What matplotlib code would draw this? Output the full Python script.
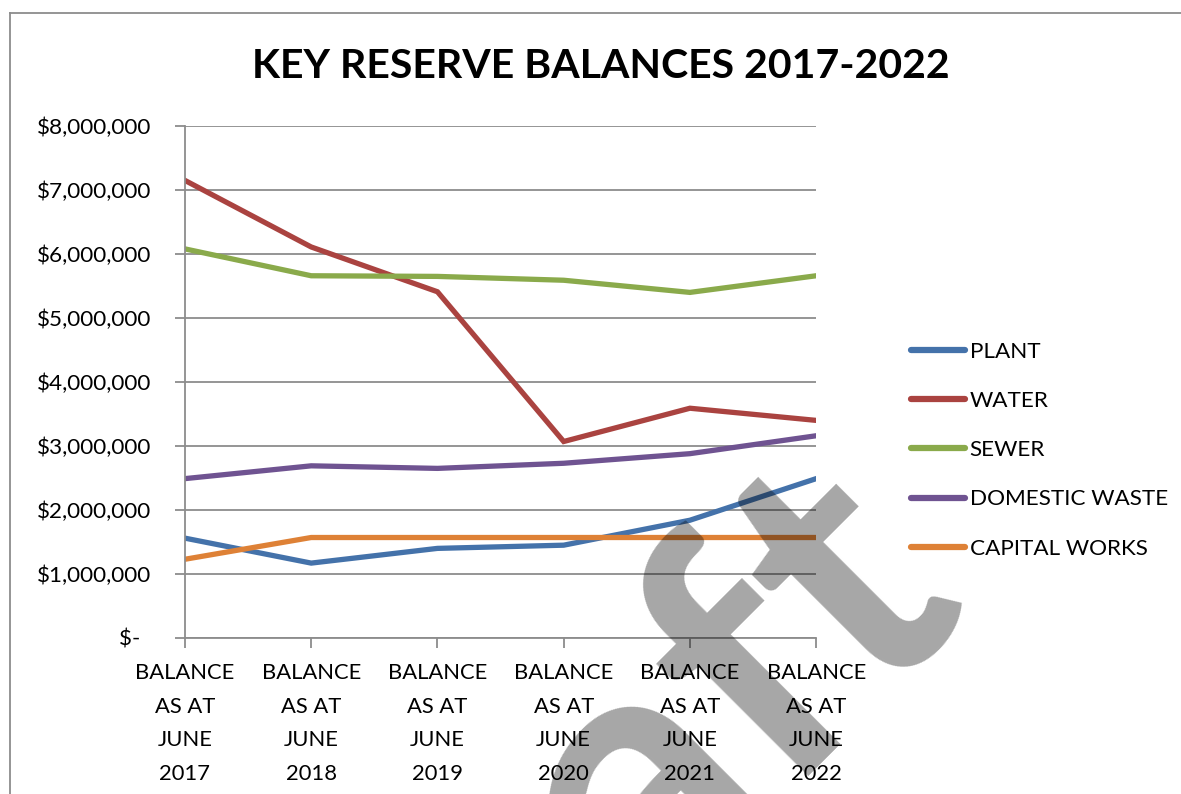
import matplotlib
matplotlib.use("Agg")
from matplotlib import pyplot as plt
from matplotlib.lines import Line2D
from matplotlib.ticker import FuncFormatter
from matplotlib.transforms import blended_transform_factory, offset_copy

plt.rcParams['font.family'] = ['Lato', 'DejaVu Sans']

# Balances at 30 June each year
anos = ['BALANCE\nAS AT\nJUNE\n2017', 'BALANCE\nAS AT\nJUNE\n2018', 'BALANCE\nAS AT\nJUNE\n2019',
        'BALANCE\nAS AT\nJUNE\n2020', 'BALANCE\nAS AT\nJUNE\n2021', 'BALANCE\nAS AT\nJUNE\n2022']
plant = [1560000, 1170000, 1400000, 1450000, 1840000, 2490000]
water = [7150000, 6110000, 5410000, 3070000, 3590000, 3400000]
sewer = [6080000, 5660000, 5650000, 5590000, 5400000, 5660000]
domestic_waste = [2490000, 2690000, 2650000, 2730000, 2880000, 3160000]
capital_works = [1230000, 1570000, 1570000, 1570000, 1570000, 1570000]

series = [('PLANT', plant, '#4472AA'),
          ('WATER', water, '#AA4340'),
          ('SEWER', sewer, '#8AAA4B'),
          ('DOMESTIC WASTE', domestic_waste, '#6F5391'),
          ('CAPITAL WORKS', capital_works, '#DE8136')]

fig = plt.figure(figsize=(11.81, 7.94), dpi=100)
ax = fig.add_axes([0.1566, 0.1965, 0.5345, 0.6448])

x = range(len(anos))
for nome, valores, cor in series:
    ax.plot(x, valores, color=cor, lw=3.8, label=nome, solid_joinstyle='miter')

def dinheiro(v, pos):
    if v == 0:
        return '$-  '
    return '${:,.0f}'.format(v)

ax.set_ylim(0, 8000000)
ax.set_xlim(0, len(anos) - 1)
ax.set_yticks(range(0, 8000001, 1000000))
ax.yaxis.set_major_formatter(FuncFormatter(dinheiro))
ax.set_xticks(list(x))
ax.set_xticklabels([])
ax.grid(axis='y', color='#8C8C8C', lw=1.3)
ax.set_axisbelow(True)

# category labels written as text so the line spacing sticks
trans = offset_copy(blended_transform_factory(ax.transData, ax.transAxes), fig=fig, x=0, y=-18, units='points')
for i, rotulo in enumerate(anos):
    ax.text(i, 0, rotulo, transform=trans, ha='center', va='top', fontsize=15.8, linespacing=1.85,
            clip_on=False)

for lado in ['top', 'right']:
    ax.spines[lado].set_visible(False)
for lado in ['left', 'bottom']:
    ax.spines[lado].set_color('#8C8C8C')
    ax.spines[lado].set_linewidth(1.3)
ax.tick_params(axis='both', colors='#8C8C8C', width=1.3, length=7, labelcolor='black')
ax.tick_params(axis='y', pad=17, labelsize=16.2)

fig.text(0.5085, 0.916, 'KEY RESERVE BALANCES 2017-2022', ha='center', va='center',
         fontsize=29.5, fontweight='bold')

handles = [Line2D([0], [0], color=c, lw=4.5, solid_capstyle='round') for _, _, c in series]
fig.legend(handles, [n for n, _, _ in series], loc='center left', bbox_to_anchor=(0.754, 0.433),
           frameon=False, fontsize=16.2, handlelength=2.4, handletextpad=0.22, labelspacing=1.3)

# document frame
fig.add_artist(Line2D([0.0085, 0.0085], [0, 0.9836], color='#8C8C8C', lw=1.3))
fig.add_artist(Line2D([0.0085, 1.0], [0.9836, 0.9836], color='#8C8C8C', lw=1.3))

# watermark
fig.text(0.8171, 0.2569, 'Draft', rotation=45, rotation_mode='anchor', ha='right', va='baseline',
         fontsize=265, fontweight='bold', color='black', alpha=0.35)

fig.savefig('out.png', dpi=100)
